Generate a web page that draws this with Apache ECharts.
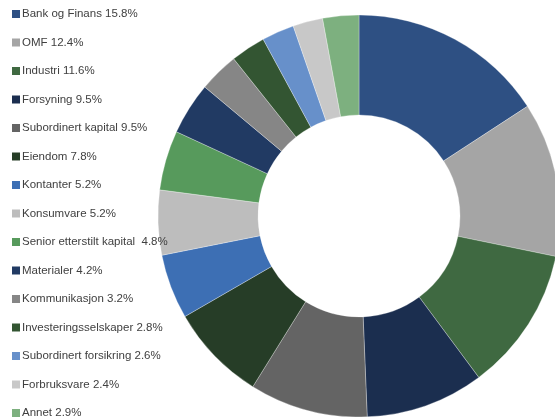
<!DOCTYPE html>
<html><head><meta charset="utf-8">
<script src="https://cdn.jsdelivr.net/npm/echarts@6/dist/echarts.min.js"></script>
<style>html,body{margin:0;padding:0;background:#fff;}#c{width:555px;height:417px;}</style>
</head><body><div id="c"></div>
<script>
const categories = ["Bank og Finans 15.8%","OMF 12.4%","Industri 11.6%","Forsyning 9.5%","Subordinert kapital 9.5%","Eiendom 7.8%","Kontanter 5.2%","Konsumvare 5.2%","Senior etterstilt kapital  4.8%","Materialer 4.2%","Kommunikasjon 3.2%","Investeringsselskaper 2.8%","Subordinert forsikring 2.6%","Forbruksvare 2.4%","Annet 2.9%"];
const values = [15.8,12.4,11.6,9.5,9.5,7.8,5.2,5.2,4.8,4.2,3.2,2.8,2.6,2.4,2.9];
const colors = ["#2E5083","#A5A5A5","#3F6941","#1B2E4F","#646464","#263D27","#3D6FB4","#BDBDBD","#579A5C","#213A63","#868686","#335532","#6790CA","#C8C8C8","#7DB07F"];

const chart = echarts.init(document.getElementById('c'), null, {renderer:'canvas'});
chart.setOption({
  animation:false,
  color: colors,
  legend:{
    orient:'vertical', left:10, top:7, height:430, padding:0,
    itemWidth:10, itemHeight:10, itemGap:14.5,
    icon:'rect',
    selectedMode:false,
    textStyle:{fontFamily:'Liberation Sans, Arial, sans-serif', fontSize:11.5, color:'#404040', lineHeight:14, padding:[0,0,0,-4]},
    data: categories
  },
  series:[{
    type:'pie', center:[359,216], radius:[101,201],
    startAngle:90, clockwise:true, silent:true,
    label:{show:false}, labelLine:{show:false},
    itemStyle:{borderColor:'#fff', borderWidth:0.3},
    data: categories.map((n,i)=>({name:n, value:values[i]}))
  }]
});
</script></body></html>
